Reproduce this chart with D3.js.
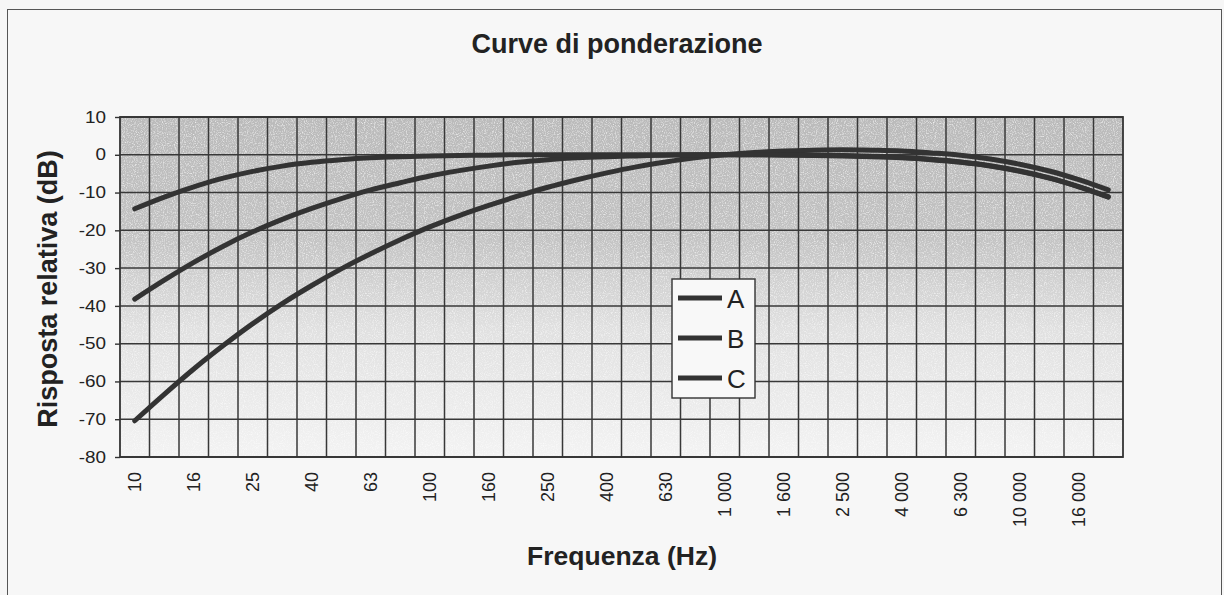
<!DOCTYPE html>
<html><head><meta charset="utf-8">
<script src="https://cdn.jsdelivr.net/npm/d3@7"></script>
<style>
html,body{margin:0;padding:0;background:#f6f6f6;}
svg{display:block;font-family:Arial,"Liberation Sans",sans-serif;}
</style></head>
<body>
<script>
const frequencies = [10,12.5,16,20,25,31.5,40,50,63,80,100,125,160,200,250,315,400,500,630,800,1000,1250,1600,2000,2500,3150,4000,5000,6300,8000,10000,12500,16000,20000];
const seriesA = [-70.4,-63.4,-56.7,-50.5,-44.7,-39.4,-34.6,-30.2,-26.2,-22.5,-19.1,-16.1,-13.4,-10.9,-8.6,-6.6,-4.8,-3.2,-1.9,-0.8,0,0.6,1.0,1.2,1.3,1.2,1.0,0.5,-0.1,-1.1,-2.5,-4.3,-6.6,-9.3];
const seriesB = [-38.2,-33.2,-28.5,-24.2,-20.4,-17.1,-14.2,-11.6,-9.3,-7.4,-5.6,-4.2,-3.0,-2.0,-1.3,-0.8,-0.5,-0.3,-0.1,0,0,0,0,-0.1,-0.2,-0.4,-0.7,-1.2,-1.9,-2.9,-4.3,-6.1,-8.4,-11.1];
const seriesC = [-14.3,-11.2,-8.5,-6.2,-4.4,-3.0,-2.0,-1.3,-0.8,-0.5,-0.3,-0.2,-0.1,0,0,0,0,0,0,0,0,0,-0.1,-0.2,-0.3,-0.5,-0.8,-1.3,-2.0,-3.0,-4.4,-6.2,-8.5,-11.2];
const seriesNames = ["A","B","C"];
const yTicks = [10,0,-10,-20,-30,-40,-50,-60,-70,-80];
const xTickLabels = ["10","16","25","40","63","100","160","250","400","630","1 000","1 600","2 500","4 000","6 300","10 000","16 000"];
const titleText = "Curve di ponderazione";
const yTitle = "Risposta relativa (dB)";
const xTitle = "Frequenza (Hz)";

const W = 1224, H = 595;
const m = {left:120, right:101, top:117, bottom:138};
const pw = W - m.left - m.right, ph = H - m.top - m.bottom;

const svg = d3.select("body").append("svg").attr("width", W).attr("height", H);
const defs = svg.append("defs");
const grad = defs.append("linearGradient").attr("id","bg").attr("x1",0).attr("y1",0).attr("x2",0).attr("y2",1);
[[0,"#bababa"],[0.35,"#c2c2c2"],[0.62,"#e0e0e0"],[1,"#f3f3f3"]].forEach(s=>grad.append("stop").attr("offset",s[0]).attr("stop-color",s[1]));
const f = defs.append("filter").attr("id","noise").attr("x",0).attr("y",0).attr("width","100%").attr("height","100%");
f.append("feTurbulence").attr("type","fractalNoise").attr("baseFrequency",0.9).attr("numOctaves",2).attr("seed",3).attr("result","t");
f.append("feColorMatrix").attr("in","t").attr("type","matrix")
 .attr("values","0 0 0 0 1  0 0 0 0 1  0 0 0 0 1  1.6 0 0 0 -0.75").attr("result","n");
f.append("feComposite").attr("in","n").attr("in2","SourceGraphic").attr("operator","in").attr("result","n2");
f.append("feMerge").selectAll("feMergeNode").data(["SourceGraphic","n2"]).join("feMergeNode").attr("in",d=>d);

// outer frame
svg.append("rect").attr("x",7.5).attr("y",9.5).attr("width",1214).attr("height",590).attr("fill","#f7f7f7").attr("stroke","#555").attr("stroke-width",1);

const x = d3.scaleBand().domain(frequencies).range([m.left, m.left+pw]).padding(0);
const y = d3.scaleLinear().domain([-80,10]).range([m.top+ph, m.top]);

// plot background
svg.append("rect").attr("x",m.left).attr("y",m.top).attr("width",pw).attr("height",ph).attr("fill","url(#bg)").attr("filter","url(#noise)");

// grid
const g = svg.append("g").attr("stroke","#383838").attr("stroke-width",1.5);
g.selectAll("line.h").data(yTicks).join("line").attr("class","h")
 .attr("x1",m.left).attr("x2",m.left+pw).attr("y1",d=>y(d)).attr("y2",d=>y(d));
g.selectAll("line.v").data(frequencies.slice(1)).join("line").attr("class","v")
 .attr("x1",d=>x(d)).attr("x2",d=>x(d)).attr("y1",m.top).attr("y2",m.top+ph);
svg.append("rect").attr("x",m.left).attr("y",m.top).attr("width",pw).attr("height",ph).attr("fill","none").attr("stroke","#333").attr("stroke-width",1.8);

// y axis
const yAxis = svg.append("g").attr("transform",`translate(${m.left},0)`)
 .call(d3.axisLeft(y).tickValues(yTicks).tickSize(5).tickPadding(9).tickFormat(d=>String(d)));
yAxis.select(".domain").remove();
yAxis.selectAll("line").attr("stroke","#333").attr("stroke-width",1.4);
yAxis.selectAll("text").attr("font-size",16).attr("fill","#222").attr("font-family","Arial,'Liberation Sans',sans-serif")
 .attr("transform","scale(1.18,1)").attr("x",function(){return -14/1.18;})
 .attr("dx",0);

// x axis labels
const labelled = frequencies.filter((d,i)=>i%2===0 && i/2 < xTickLabels.length);
const xl = svg.append("g");
xl.selectAll("text").data(labelled).join("text")
 .attr("transform",d=>`translate(${x(d)+x.bandwidth()/2+6.5},${m.top+ph+15}) rotate(-90)`)
 .attr("text-anchor","end").attr("font-size",18).attr("fill","#222")
 .text((d,i)=>xTickLabels[i]);

// curves
const series = [seriesA, seriesB, seriesC];
const line = d3.line().x((d,i)=>x(frequencies[i])+x.bandwidth()/2).y(d=>y(d)).curve(d3.curveMonotoneX);
svg.append("g").selectAll("path").data(series).join("path")
 .attr("d",line).attr("fill","none").attr("stroke","#333").attr("stroke-width",5).attr("stroke-linecap","round");

// legend
const lg = svg.append("g");
lg.append("rect").attr("x",672).attr("y",279).attr("width",83).attr("height",119).attr("fill","#f8f8f8").attr("stroke","#333").attr("stroke-width",1.4);
seriesNames.forEach((n,i)=>{
  const yy = 298 + i*40;
  lg.append("line").attr("x1",678).attr("x2",722).attr("y1",yy).attr("y2",yy).attr("stroke","#333").attr("stroke-width",5);
  lg.append("text").attr("x",727).attr("y",yy+10).attr("font-size",26).attr("fill","#222").text(n);
});

// titles
svg.append("text").attr("x",617).attr("y",53).attr("text-anchor","middle").attr("font-size",27).attr("font-weight","bold").attr("fill","#222").text(titleText);
svg.append("text").attr("transform","translate(57,289) rotate(-90)").attr("text-anchor","middle").attr("font-size",27).attr("font-weight","bold").attr("fill","#222").text(yTitle);
svg.append("text").attr("x",622).attr("y",565).attr("text-anchor","middle").attr("font-size",26.5).attr("font-weight","bold").attr("fill","#222").text(xTitle);
</script>
</body></html>
